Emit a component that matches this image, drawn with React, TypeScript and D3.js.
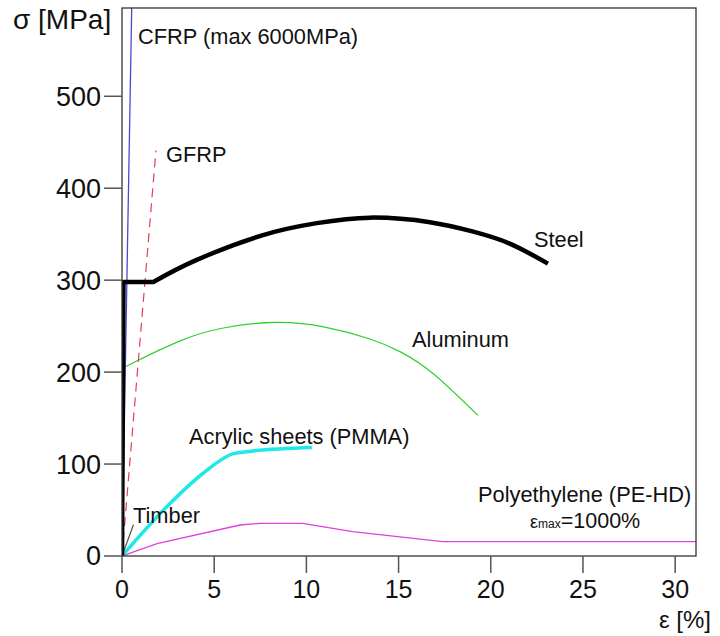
import React from "react";
import * as d3 from "d3";

type P = [number, number];

const xTicks = [0, 5, 10, 15, 20, 25, 30];
const yTicks = [0, 100, 200, 300, 400, 500];

const cfrp: P[] = [[0, 0], [0.53, 600]];
const gfrp: P[] = [[0, 0], [1.84, 441]];
const steel: P[] = [[0, 0], [0.08, 298], [1.7, 298], [4.05, 322], [7.65, 349], [10.56, 362], [13.45, 368], [16.7, 363], [19.0, 353], [21.0, 340], [23.1, 318]];
const aluminum: P[] = [[0, 0], [0.1, 205], [0.8, 212], [3.15, 234], [5.5, 248], [8.3, 254], [11.0, 249], [13.45, 236], [15.1, 222], [16.9, 198], [19.3, 153]];
const acrylic: P[] = [[0, 0], [2.4, 53], [4.4, 90], [6.0, 111], [7.0, 114], [10.3, 118]];
const polyethylene: P[] = [[0, 0], [1.9, 13.5], [6.4, 33.7], [7.5, 35.5], [9.8, 35.5], [12.5, 26.4], [17.4, 15.6], [31.2, 15.6]];
const timber: P[] = [[0, 0], [0.62, 34]];

const FONT = "'Liberation Sans', Arial, sans-serif";

export default function App() {
  const W = 720, H = 636;
  const x = d3.scaleLinear().domain([0, 31.13]).range([122, 696]);
  const y = d3.scaleLinear().domain([0, 596]).range([556, 8]);
  const lin = d3.line<P>().x(d => x(d[0])).y(d => y(d[1]));
  const mono = d3.line<P>().x(d => x(d[0])).y(d => y(d[1])).curve(d3.curveMonotoneX);
  const nat = d3.line<P>().x(d => x(d[0])).y(d => y(d[1])).curve(d3.curveNatural);

  const steelPath = lin(steel.slice(0, 3))! + nat(steel.slice(2))!.replace(/^M/, "L");
  const aluPath = lin(aluminum.slice(0, 2))! + nat(aluminum.slice(1))!.replace(/^M/, "L");

  return (
    <svg width={W} height={H} style={{ position: "absolute", left: 0, top: 0, background: "#fff" }} fontFamily={FONT}>
      <defs>
        <clipPath id="plot">
          <rect x={122} y={8} width={574} height={548} />
        </clipPath>
      </defs>
      <rect x={0} y={0} width={W} height={H} fill="#fff" />
      <g clipPath="url(#plot)" fill="none">
        <path d={lin(polyethylene)!} stroke="#e040e0" strokeWidth={1.3} />
        <path d={aluPath} stroke="#30d030" strokeWidth={1.2} />
        <path d={mono(acrylic)!} stroke="#20e8e8" strokeWidth={3.5} />
        <path d={lin(timber)!} stroke="#505050" strokeWidth={1.2} />
        <path d={lin(gfrp)!} stroke="#e04050" strokeWidth={1.2} strokeDasharray="9,6" />
        <path d={lin(cfrp)!} stroke="#4848d0" strokeWidth={1.3} />
        <path d={steelPath} stroke="#000" strokeWidth={4.5} strokeLinejoin="round" />
      </g>
      <rect x={122} y={8} width={574} height={548} fill="none" stroke="#333" strokeWidth={1.3} />
      {yTicks.map(t => (
        <g key={"y" + t}>
          <line x1={104} x2={122} y1={y(t)} y2={y(t)} stroke="#555" strokeWidth={1.5} />
          <text x={101} y={y(t)} dy="0.35em" textAnchor="end" fontSize={27} fill="#111">{t}</text>
        </g>
      ))}
      {xTicks.map(t => (
        <g key={"x" + t}>
          <line x1={x(t)} x2={x(t)} y1={556} y2={573} stroke="#555" strokeWidth={1.5} />
          <text x={x(t)} y={598} textAnchor="middle" fontSize={25} fill="#111">{t}</text>
        </g>
      ))}
      <text x={13} y={29} fontSize={28} fill="#111">σ [MPa]</text>
      <text x={711} y={628} textAnchor="end" fontSize={24} fill="#111">ε [%]</text>

      <g fontSize={21.8} fill="#111">
        <text x={138} y={44}>CFRP (max 6000MPa)</text>
        <text x={166} y={162}>GFRP</text>
        <text x={534} y={247}>Steel</text>
        <text x={412} y={347}>Aluminum</text>
        <text x={189} y={444}>Acrylic sheets (PMMA)</text>
        <text x={133} y={523}>Timber</text>
        <text x={478} y={502}>Polyethylene (PE-HD)</text>
        <text x={530} y={528}>
          <tspan fontSize={18}>ε</tspan>
          <tspan fontSize={12}>max</tspan>
          <tspan fontSize={21.5}>=1000%</tspan>
        </text>
      </g>
    </svg>
  );
}
